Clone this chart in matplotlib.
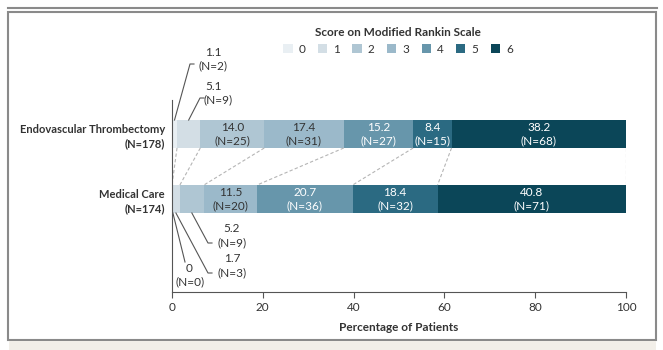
import matplotlib.pyplot as plt
from matplotlib.patches import Patch, Rectangle
from matplotlib.lines import Line2D
import numpy as np

plt.rcParams['font.family'] = ['Lato', 'DejaVu Sans']

# data
groups = ["Endovascular Thrombectomy\n(N=178)", "Medical Care\n(N=174)"]
scores = ["0", "1", "2", "3", "4", "5", "6"]
evt_pct = [1.1, 5.1, 14.0, 17.4, 15.2, 8.4, 38.2]
evt_n = [2, 9, 25, 31, 27, 15, 68]
med_pct = [0, 1.7, 5.2, 11.5, 20.7, 18.4, 40.8]
med_n = [0, 3, 9, 20, 36, 32, 71]

colors = ["#e9eff3", "#d3dee5", "#afc6d3", "#9bb9ca", "#6796ab", "#2b6a82", "#0b4658"]
txt_colors = ["#333333"] * 4 + ["white"] * 3
DARK = "#333333"

W, H = 663, 350
fig = plt.figure(figsize=(W / 100, H / 100), dpi=100)

# frame around the figure
fig.add_artist(Line2D([8 / W, 657 / W], [1 - 8 / H, 1 - 8 / H], color="#8a8a8a", lw=1.5))
fig.add_artist(Rectangle((8 / W, 1 - 340 / H), 648 / W, 328 / H, fill=False,
                         ec="#8a8a8a", lw=1.5))
fig.add_artist(Rectangle((9 / W, 0), 647 / W, 9 / H, color="#f2efe9", lw=0))

ax = fig.add_axes([172 / W, 58 / H, 454 / W, 252 / H])
ax.set_xlim(0, 100)
bar_h = 0.43
y_evt, y_med = 1, 0
ax.set_ylim(-1.43, 1 + 94 / 65)


def px(x, y):
    # figure pixel (from top-left) -> data coords
    return ax.transData.inverted().transform(fig.dpi_scale_trans.transform((x / 100, (H - y) / 100)))


rows = [(y_evt, evt_pct, evt_n), (y_med, med_pct, med_n)]
cums = []
for yy, pct, n in rows:
    pct = np.array(pct)
    w = pct / pct.sum() * 100
    left = np.concatenate([[0], np.cumsum(w)[:-1]])
    cums.append(np.cumsum(w))
    ax.barh(yy, w, left=left, height=bar_h, color=colors, lw=0)
    for i in range(len(w)):
        if w[i] >= 7:
            ax.text(left[i] + w[i] / 2, yy, f"{pct[i]:.1f}\n(N={n[i]})", ha="center",
                    va="center", color=txt_colors[i], fontsize=8.5, linespacing=1.3)

# dashed connectors between the bars
for a, b in zip(cums[0], cums[1]):
    ax.plot([a, b], [y_evt - bar_h / 2, y_med + bar_h / 2], ls=(0, (3, 2)),
            color="#b5b5b5", lw=0.8)

# leader-line labels for thin segments
evt_w = np.array(evt_pct) / sum(evt_pct) * 100
med_w = np.array(med_pct) / sum(med_pct) * 100
evt_mid = np.cumsum(evt_w) - evt_w / 2
med_mid = np.cumsum(med_w) - med_w / 2

callouts = [
    # (x0, y0, elbow px, tick end px, value pos px, n pos px, value, n)
    (evt_mid[0], y_evt + bar_h / 2, (190, 64), (194, 64), (213, 52), (213, 66), evt_pct[0], evt_n[0]),
    (evt_mid[1], y_evt + bar_h / 2, (200, 98), (204, 98), (214, 86), (218, 100), evt_pct[1], evt_n[1]),
    (0.2, y_med - bar_h / 2, (185, 262), None, (189, 268), (190, 282), med_pct[0], med_n[0]),
    (med_mid[1], y_med - bar_h / 2, (208, 273), (212, 273), (232, 258), (232, 273), med_pct[1], med_n[1]),
    (med_mid[2], y_med - bar_h / 2, (208, 243), (212, 243), (232, 228), (232, 243), med_pct[2], med_n[2]),
]
for x0, y0, elb, tick, vpos, npos, v, n in callouts:
    ex, ey = px(*elb)
    xs, ys = [x0, ex], [y0, ey]
    if tick is not None:
        tx, ty = px(*tick)
        xs.append(tx)
        ys.append(ty)
    ax.plot(xs, ys, color="#555555", lw=0.8, clip_on=False)
    vtxt = "0" if v == 0 else f"{v:.1f}"
    ax.text(*px(*vpos), vtxt, ha="center", va="center", fontsize=8.5, color=DARK)
    ax.text(*px(*npos), f"(N={n})", ha="center", va="center", fontsize=8.5, color=DARK)

ax.set_yticks([y_evt, y_med])
ax.set_yticklabels(groups, fontweight="bold", fontsize=8, color=DARK, linespacing=1.4)
ax.tick_params(axis="y", length=0, pad=5)
ax.set_xticks(np.arange(0, 101, 20))
ax.tick_params(axis="x", length=4, width=0.8, colors="#555555", labelsize=8.5, labelcolor=DARK)
ax.set_xlabel("Percentage of Patients", fontweight="bold", fontsize=8.5, color=DARK, labelpad=6)
for s in ["top", "right"]:
    ax.spines[s].set_visible(False)
ax.spines["left"].set_bounds(-1.43, 1 + 34 / 65)
ax.spines["left"].set_color("#555555")
ax.spines["bottom"].set_color("#555555")
ax.spines["left"].set_linewidth(0.8)
ax.spines["bottom"].set_linewidth(0.8)

handles = [Patch(facecolor=c, edgecolor="none") for c in colors]
leg = fig.legend(handles, scores, ncol=7, frameon=False, loc="upper center",
                 bbox_to_anchor=(398 / W, 1 - 22 / H), title="Score on Modified Rankin Scale",
                 fontsize=8.5, handlelength=0.8, handleheight=0.8, handletextpad=0.5,
                 columnspacing=1.05, borderaxespad=0)
leg.get_title().set_fontweight("bold")
leg.get_title().set_fontsize(8.5)
leg.get_title().set_color(DARK)
for t in leg.get_texts():
    t.set_color(DARK)

fig.savefig("out.png", dpi=100)
